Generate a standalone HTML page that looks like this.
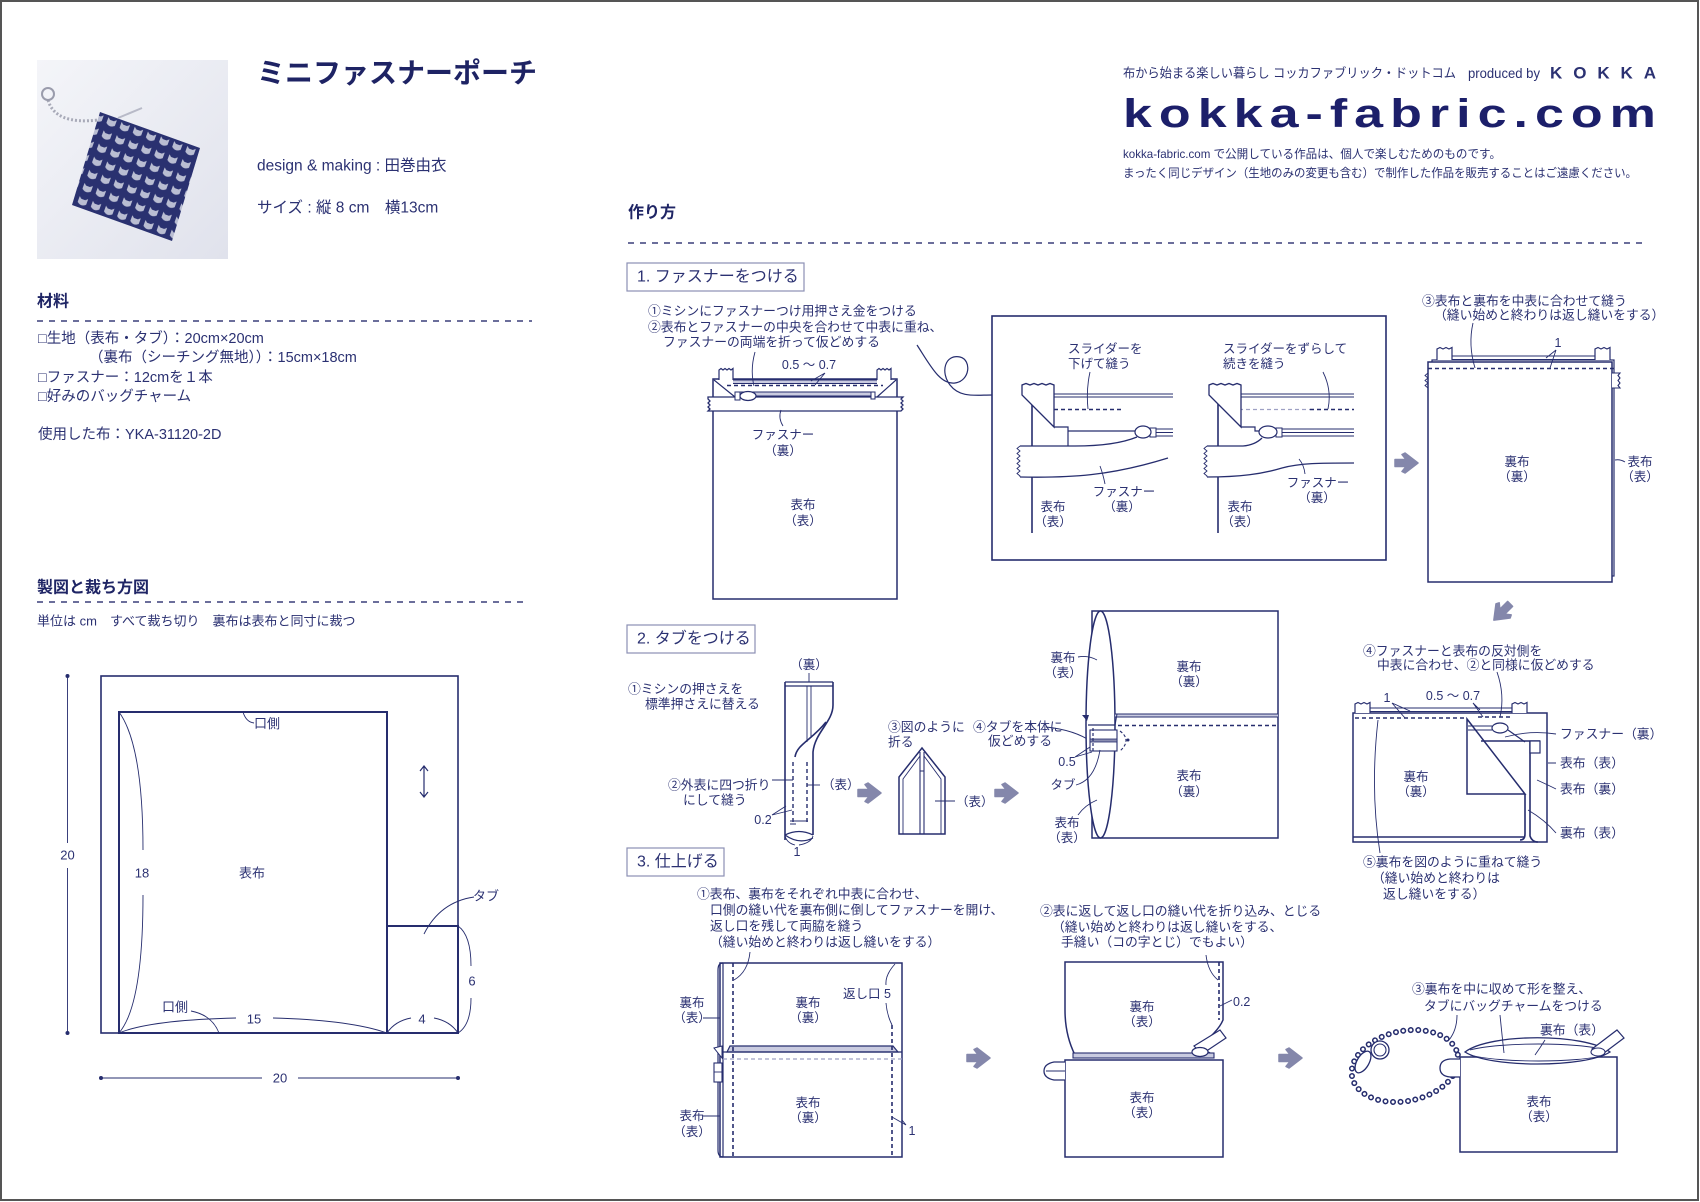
<!DOCTYPE html>
<html><head><meta charset="utf-8"><style>
html,body{margin:0;padding:0;background:#fff}
svg{display:block}
text{font-family:"Liberation Sans","Noto Sans CJK JP",sans-serif;fill:#2b3172;dominant-baseline:central;font-size:12.5px}
.c{text-anchor:middle}
.i{font-size:12.8px}
.h{font-size:16px;font-weight:bold;fill:#1f2565}
.s{stroke:#262d6e;fill:none;stroke-width:1.6}
.w{stroke:#262d6e;fill:#fff;stroke-width:1.5}
.t{stroke:#262d6e;fill:none;stroke-width:0.9}
.d{stroke:#262d6e;fill:none;stroke-width:1.6;stroke-dasharray:4 3}
.ld{stroke:#9ea1c4;fill:none;stroke-width:1.3;stroke-dasharray:4 3}
.hd{stroke:#3a3f7a;fill:none;stroke-width:1.5;stroke-dasharray:6 6}
.ar{fill:#8487ab;stroke:#8487ab;stroke-width:1.5;stroke-linejoin:round}
.bx{fill:#fff;stroke:#8b90b4;stroke-width:1.2}
</style></head><body>
<svg width="1700" height="1202" viewBox="0 0 1700 1202" xmlns="http://www.w3.org/2000/svg">
<defs>
<linearGradient id="pg" x1="0" y1="0" x2="1" y2="1"><stop offset="0" stop-color="#f4f5f9"/><stop offset="1" stop-color="#e0e2ec"/></linearGradient>
<pattern id="cat" width="14" height="14" patternUnits="userSpaceOnUse" patternTransform="rotate(20)">
<rect width="14" height="14" fill="#2a3170"/>
<path d="M2 3 L4.5 5 H8.5 L11 3 V9 Q6.5 13 2 9 Z" fill="#b9bdd2"/>
</pattern>
<path id="arr" d="M0 6.5 H11 L7 1.5 L10 0 L23 10 L10 20 L7 18.5 L11 13.5 H0 Z"/>
</defs>
<rect x="1" y="1" width="1697" height="1199" fill="none" stroke="#555" stroke-width="2"/>

<!-- photo -->
<rect x="37" y="60" width="191" height="199" fill="url(#pg)"/>
<path d="M48 100 Q55 125 98 120" fill="none" stroke="#a8aab8" stroke-width="3" stroke-dasharray="2 2"/>
<circle cx="48" cy="94" r="6" fill="none" stroke="#9a9cac" stroke-width="2"/>
<polygon points="100,112 200,148 172,241 72,205" fill="url(#cat)"/>
<path d="M118 118 L142 108" stroke="#b8bac8" stroke-width="2"/>

<!-- titles -->
<text x="257" y="73" style="font-size:28px;font-weight:bold;fill:#1e2364">ミニファスナーポーチ</text>
<text x="257" y="166" style="font-size:15.5px">design &amp; making : 田巻由衣</text>
<text x="257" y="208" style="font-size:15.5px">サイズ : 縦 8 cm　横13cm</text>

<text x="37" y="302" class="h">材料</text>
<line x1="37" y1="321" x2="532" y2="321" class="hd"/>
<text x="38" y="339" style="font-size:14.5px">□生地（表布・タブ）：20cm×20cm</text>
<text x="89" y="358" style="font-size:14.5px">（裏布（シーチング無地））：15cm×18cm</text>
<text x="38" y="378" style="font-size:14.5px">□ファスナー：12cmを１本</text>
<text x="38" y="397" style="font-size:14.5px">□好みのバッグチャーム</text>
<text x="38" y="435" style="font-size:14.5px">使用した布：YKA-31120-2D</text>

<!-- header right -->
<text x="1123" y="73" style="font-size:13px" textLength="333" lengthAdjust="spacingAndGlyphs">布から始まる楽しい暮らし コッカファブリック・ドットコム</text>
<text x="1468" y="73" style="font-size:14px" textLength="72" lengthAdjust="spacingAndGlyphs">produced by</text>
<text x="1550" y="73" style="font-size:17px;font-weight:bold" textLength="106" lengthAdjust="spacing">KOKKA</text>
<text transform="translate(1123,127) scale(1.3,1)" x="0" y="0" style="font-size:40px;font-weight:bold;fill:#1c1f6a;dominant-baseline:alphabetic;letter-spacing:5.4px">kokka-fabric.com</text>
<text x="1123" y="154" style="font-size:12px" textLength="378" lengthAdjust="spacingAndGlyphs">kokka-fabric.com で公開している作品は、個人で楽しむためのものです。</text>
<text x="1123" y="173" style="font-size:12px" textLength="514" lengthAdjust="spacingAndGlyphs">まったく同じデザイン（生地のみの変更も含む）で制作した作品を販売することはご遠慮ください。</text>

<text x="628" y="213" class="h">作り方</text>
<line x1="628" y1="243" x2="1647" y2="243" class="hd"/>

<!-- cutting diagram -->
<text x="37" y="588" class="h">製図と裁ち方図</text>
<line x1="37" y1="602" x2="528" y2="602" class="hd"/>
<text x="37" y="621" style="font-size:13px">単位は cm　すべて裁ち切り　裏布は表布と同寸に裁つ</text>
<rect x="101" y="676" width="357" height="357" class="s"/>
<rect x="119" y="712" width="268" height="321" class="s" style="stroke-width:2"/>
<rect x="387" y="926" width="71" height="107" class="s" style="stroke-width:2"/>
<path d="M67.5 676 V843 M67.5 868 V1033 M101 1078 H262 M298 1078 H458" class="t"/>
<circle cx="67.5" cy="676" r="2" fill="#262d6e"/><circle cx="67.5" cy="1033" r="2" fill="#262d6e"/>
<circle cx="101" cy="1078" r="2" fill="#262d6e"/><circle cx="458" cy="1078" r="2" fill="#262d6e"/>
<text x="67.5" y="855" class="c" style="font-size:13px">20</text>
<text x="280" y="1078" class="c" style="font-size:13px">20</text>
<path d="M424 766 V797 M420 771 L424 766 L428 771 M420 792 L424 797 L428 792" class="t" style="stroke-width:1.2"/>
<path d="M243 712 Q246 722 254 723" class="t"/>
<text x="267" y="723.5" class="c" style="font-size:13px">口側</text>
<text x="252" y="873" class="c" style="font-size:13px">表布</text>
<text x="142" y="873" class="c" style="font-size:13px">18</text>
<path d="M119 712 Q143 745 143 850 M143 895 Q143 1005 119 1033" class="t"/>
<text x="175" y="1007" class="c" style="font-size:13px">口側</text>
<path d="M191 1011 Q212 1015 219 1033" class="t"/>
<text x="254" y="1019" class="c" style="font-size:13px">15</text>
<path d="M119 1033 Q150 1020 236 1018 M273 1018 Q350 1020 387 1033" class="t"/>
<text x="422" y="1019" class="c" style="font-size:13px">4</text>
<path d="M387 1033 Q395 1021 411 1018 M434 1018 Q450 1021 458 1033" class="t"/>
<text x="472" y="981" class="c" style="font-size:13px">6</text>
<path d="M458 926 Q471 935 471 966 M471 998 Q471 1025 458 1033" class="t"/>
<text x="486" y="896" class="c" style="font-size:13px">タブ</text>
<path d="M474 897 Q440 902 424 934" class="t"/>

<!-- STEP 1 -->
<rect x="627" y="263" width="177" height="28" class="bx"/>
<text x="637" y="277" style="font-size:16px">1. ファスナーをつける</text>
<text x="648" y="311" class="i">①ミシンにファスナーつけ用押さえ金をつける</text>
<text x="648" y="327" class="i">②表布とファスナーの中央を合わせて中表に重ね、</text>
<text x="663" y="342" class="i">ファスナーの両端を折って仮どめする</text>

<rect x="713" y="379" width="184" height="220" class="w"/>
<path d="M719 380 V370 L721 368.5 L723 370 L725 368.5 L727 370 L729 368.5 L731 370 L733 368.5 V380" class="w" style="stroke-width:1.2"/>
<path d="M877 380 V370 L879 368.5 L881 370 L883 368.5 L885 370 L887 368.5 L889 370 L891 368.5 V380" class="w" style="stroke-width:1.2"/>
<rect x="733" y="380" width="144" height="3.5" fill="#c9cbe0"/>
<path d="M733 380 H877 M733 383.5 H877" class="t"/>
<path d="M714 380 L735 397 M896 380 L877 397" class="s" style="stroke-width:1.2"/>
<path d="M727 385.5 H883" class="d"/>
<path d="M708 397 H903 L901 399 L903 401 L901 403 L903 405 L901 407 L903 409 L901 411 H708 L710 409 L708 407 L710 405 L708 403 L710 401 L708 399 Z" class="w" style="stroke-width:1.3"/>
<rect x="740" y="392" width="132" height="4" fill="#c9cbe0"/>
<path d="M740 392 H872 M740 396 H872" class="t"/>
<rect x="735" y="392" width="5" height="8" class="w" style="stroke-width:1"/>
<ellipse cx="748" cy="396" rx="8" ry="4.5" class="w" style="stroke-width:1.2"/>
<rect x="871" y="392" width="4" height="7" class="w" style="stroke-width:1"/>
<text x="809" y="365" class="c">0.5 ～ 0.7</text>
<path d="M825 373 L811 381 M825 373 L815 385" class="t"/>
<path d="M755 352 Q750 370 754 386" class="t"/>
<path d="M783 426 Q778 418 781 410" class="t"/>
<text x="783" y="435" class="c">ファスナー</text>
<text x="783" y="451" class="c">（裏）</text>
<text x="803" y="505" class="c">表布</text>
<text x="803" y="521" class="c">（表）</text>

<path d="M917 345 C930 365 940 385 955 383 C970 381 972 360 960 357 C945 354 940 372 950 385 C960 398 975 395 992 395" class="t" style="stroke-width:1.2"/>
<rect x="992" y="316" width="394" height="244" class="s"/>

<!-- sub A -->
<text x="1068" y="349">スライダーを</text>
<text x="1068" y="364">下げて縫う</text>
<path d="M1032 401 V533" class="s"/>
<path d="M1054 394 H1173 M1054 397 H1173" class="t"/>
<path d="M1040 409.5 H1123" class="d"/>
<path d="M1022 395 V385 L1026 383.5 L1030 385 L1034 383.5 L1038 385 L1042 383.5 L1046 385 L1050 383.5 L1054 385 V427 Z" class="w" style="stroke-width:1.3"/>
<path d="M1020 446 H1075 Q1115 446 1137 437 L1168 458 C1110 476 1070 478 1020 477 Z" fill="#fff"/>
<path d="M1054 427 H1068 V431 H1136 M1068 431 V446" class="t" style="stroke-width:1.2"/>
<path d="M1020 446 H1075 Q1115 446 1137 437" class="s" style="stroke-width:1.3"/>
<path d="M1020 477 C1070 478 1110 476 1168 458" class="s" style="stroke-width:1.3"/>
<path d="M1020 446 l-3 2.5 l3 2.5 l-3 2.5 l3 2.5 l-3 2.5 l3 2.5 l-3 2.5 l3 2.5 l-3 2.5 l3 2.5 l-3 2.5 l3 2.5 v1" class="t"/>
<path d="M1156 429 H1173 M1156 432.5 H1173 M1156 436 H1173" class="t"/>
<rect x="1150" y="428" width="6" height="9" class="w" style="stroke-width:1"/>
<ellipse cx="1143" cy="432" rx="8" ry="6" class="w" style="stroke-width:1.2"/>
<path d="M1090 372 Q1086 390 1088 409" class="t"/>
<path d="M1105 484 Q1103 474 1100 466" class="t"/>
<text x="1124" y="492" class="c">ファスナー</text>
<text x="1122" y="507" class="c">（裏）</text>
<text x="1053" y="507" class="c">表布</text>
<text x="1053" y="522" class="c">（表）</text>

<!-- sub B -->
<text x="1223" y="349">スライダーをずらして</text>
<text x="1223" y="364">続きを縫う</text>
<path d="M1218 401 V533" class="s"/>
<path d="M1241 394 H1354 M1241 397 H1354" class="t"/>
<path d="M1225 409.5 H1310" class="ld"/>
<path d="M1310 409.5 H1354" class="d"/>
<path d="M1209 395 V385 L1213 383.5 L1217 385 L1221 383.5 L1225 385 L1229 383.5 L1233 385 L1237 383.5 L1241 385 V427 Z" class="w" style="stroke-width:1.3"/>
<path d="M1207 446 H1243 Q1255 445 1262 438 L1354 438 V463 C1320 463 1300 463 1282 468 C1262 474 1240 477 1207 477 Z" fill="#fff"/>
<path d="M1241 427 H1255 V431 H1261" class="t" style="stroke-width:1.2"/>
<path d="M1207 446 H1243 Q1255 445 1262 438" class="s" style="stroke-width:1.3"/>
<path d="M1207 477 C1240 477 1262 474 1282 468 C1300 463 1320 463 1354 463" class="s" style="stroke-width:1.3"/>
<path d="M1207 446 l-3 2.5 l3 2.5 l-3 2.5 l3 2.5 l-3 2.5 l3 2.5 l-3 2.5 l3 2.5 l-3 2.5 l3 2.5 l-3 2.5 l3 2.5 v1" class="t"/>
<path d="M1282 429 H1354 M1282 432.5 H1354 M1282 436 H1354" class="t"/>
<rect x="1276" y="428" width="6" height="9" class="w" style="stroke-width:1"/>
<ellipse cx="1268" cy="432" rx="9" ry="6" class="w" style="stroke-width:1.2"/>
<path d="M1323 372 Q1332 390 1328 409" class="t"/>
<path d="M1305 474 Q1304 465 1299 459" class="t"/>
<text x="1318" y="483" class="c">ファスナー</text>
<text x="1317" y="498" class="c">（裏）</text>
<text x="1240" y="507" class="c">表布</text>
<text x="1240" y="522" class="c">（表）</text>

<use href="#arr" class="ar" transform="translate(1395,453)"/>

<!-- panel 3 -->
<text x="1422" y="301" class="i">③表布と裏布を中表に合わせて縫う</text>
<text x="1434" y="315" class="i">（縫い始めと終わりは返し縫いをする）</text>
<rect x="1432" y="360" width="182" height="216" class="w" style="stroke-width:1.2"/>
<path d="M1437 360 V349 L1440 347.5 L1443 349 L1446 347.5 L1449 349 L1452 347.5 V360" class="w" style="stroke-width:1.2"/>
<path d="M1595 360 V349 L1598 347.5 L1601 349 L1604 347.5 L1607 349 L1610 347.5 V360" class="w" style="stroke-width:1.2"/>
<path d="M1452 356 H1595 M1452 359.5 H1595" class="t"/>
<rect x="1428" y="362" width="184" height="220" class="w"/>
<path d="M1428 368.5 H1617" class="d"/>
<path d="M1428 373 l-3 2.5 l3 2.5 l-3 2.5 l3 2.5 l-3 2.5 l3 2.5" class="t"/>
<path d="M1612 373 H1620 l-2 2.5 l2 2.5 l-2 2.5 l2 2.5 l-2 2.5 l2 2.5 H1612" class="w" style="stroke-width:1.1"/>
<text x="1558" y="343" class="c">1</text>
<path d="M1556 350 L1546 358 M1556 350 L1550 368" class="t"/>
<path d="M1473 323 Q1468 345 1475 368" class="t"/>
<text x="1517" y="462" class="c">裏布</text>
<text x="1517" y="477" class="c">（裏）</text>
<path d="M1615 460 Q1620 459 1625 462" class="t"/>
<text x="1640" y="462" class="c">表布</text>
<text x="1640" y="477" class="c">（表）</text>
<use href="#arr" class="ar" transform="translate(1502,612) rotate(135) translate(-11.5,-10)"/>

<!-- panel 4 -->
<text x="1363" y="651" class="i">④ファスナーと表布の反対側を</text>
<text x="1377" y="665" class="i">中表に合わせ、②と同様に仮どめする</text>
<rect x="1353" y="713" width="194" height="129" class="w"/>
<path d="M1370 708 H1512 M1370 711.5 H1512" class="t"/>
<path d="M1355 713 V704 L1358 702.5 L1361 704 L1364 702.5 L1367 704 L1370 702.5 V713" class="w" style="stroke-width:1.2"/>
<path d="M1512 713 V704 L1515 702.5 L1518 704 L1521 702.5 L1524 704 L1527 702.5 V713" class="w" style="stroke-width:1.2"/>
<path d="M1355 718 H1467" class="d"/>
<path d="M1478 717 H1513" class="d"/>
<path d="M1467 719 V794 H1525 Z" class="w"/>
<path d="M1525 794 V834 Q1525 840 1520 840" class="s"/>
<path d="M1530 741 V836 Q1532 842 1538 842" class="s"/>
<path d="M1481 741 H1540" class="s"/>
<rect x="1530" y="741" width="10" height="12" class="w" style="stroke-width:1.2"/>
<path d="M1468 726 H1492 M1468 730 H1492" class="t"/>
<ellipse cx="1500" cy="728" rx="8" ry="5" class="w" style="stroke-width:1.2"/>
<path d="M1508 730 L1525 742" class="s" style="stroke-width:1.2"/>
<path d="M1353 837 H1525" class="s"/>
<text x="1387" y="698" class="c">1</text>
<path d="M1392 703 L1410 711 M1392 703 L1405 718" class="t"/>
<text x="1453" y="696" class="c">0.5 ～ 0.7</text>
<path d="M1473 703 L1480 710 M1473 703 L1483 717" class="t"/>
<path d="M1497 672 Q1505 695 1500 717" class="t"/>
<path d="M1505 737 Q1530 730 1556 734 M1548 763 H1556 M1537 780 Q1548 785 1556 789 M1528 810 Q1545 820 1556 833" class="t"/>
<text x="1560" y="734" class="i">ファスナー（裏）</text>
<text x="1560" y="763" class="i">表布（表）</text>
<text x="1560" y="789" class="i">表布（裏）</text>
<text x="1560" y="833" class="i">裏布（表）</text>
<text x="1416" y="777" class="c">裏布</text>
<text x="1416" y="792" class="c">（裏）</text>
<path d="M1380 853 Q1370 790 1378 720" class="t"/>
<text x="1363" y="862" class="i">⑤裏布を図のように重ねて縫う</text>
<text x="1372" y="878" class="i">（縫い始めと終わりは</text>
<text x="1383" y="894" class="i">返し縫いをする）</text>

<!-- STEP 2 -->
<rect x="627" y="625" width="128" height="28" class="bx"/>
<text x="637" y="639" style="font-size:16px">2. タブをつける</text>
<text x="628" y="689" class="i">①ミシンの押さえを</text>
<text x="645" y="704" class="i">標準押さえに替える</text>
<text x="809" y="665" class="c">（裏）</text>
<path d="M809 673 V682" class="t"/>
<path d="M785 682 H833 M785 686 H833" class="s" style="stroke-width:1.3"/>
<path d="M785 682 V840" class="s"/>
<path d="M807 686 V742 M811 686 V738" class="t"/>
<path d="M833 682 V705 C833 722 815 732 813 752 V835" class="s"/>
<path d="M795 757 C797 744 812 740 826 722" class="s"/>
<path d="M793 762 V823 M807 762 V823" class="d" style="stroke-width:1.4"/>
<path d="M785 835 Q799 828 813 835 M785 835 Q799 845 813 838" class="s" style="stroke-width:1.2"/>
<path d="M790 821 H808 M790 824 H796" class="t"/>
<text x="668" y="785" class="i">②外表に四つ折り</text>
<text x="683" y="800" class="i">にして縫う</text>
<path d="M772 780 H793" class="t"/>
<path d="M807 785 H820" class="t"/>
<text x="822" y="785">（表）</text>
<text x="763" y="820" class="c">0.2</text>
<path d="M772 815 L786 806 M772 815 L792 810" class="t"/>
<path d="M785 836 Q787 843 795 845 M813 836 Q811 843 799 845" class="t"/>
<text x="797" y="852" class="c">1</text>
<use href="#arr" class="ar" transform="translate(858,783)"/>
<text x="888" y="727" class="i">③図のように</text>
<text x="888" y="742" class="i">折る</text>
<polygon points="899,834 899,777 922,748 945,777 945,834" class="w"/>
<path d="M903 834 V779 L920 756 M941 834 V779 L924 756" class="t"/>
<path d="M920 752 V834 M924 752 V834 M920 771 H924" class="t" style="stroke-width:1.1"/>
<path d="M935 801 H955" class="t"/>
<text x="956" y="802">（表）</text>
<use href="#arr" class="ar" transform="translate(995,783)"/>
<text x="973" y="727" class="i">④タブを本体に</text>
<text x="988" y="741" class="i">仮どめする</text>
<path d="M1046 727 Q1075 730 1092 742" class="t"/>

<rect x="1092" y="611" width="186" height="227" class="w"/>
<ellipse cx="1100.5" cy="724.5" rx="14.5" ry="113.5" class="w"/>
<rect x="1115" y="714" width="163" height="3" fill="#c9cbe0"/>
<path d="M1115 714 H1278 M1115 717 H1278 M1115 726 L1117 714" class="t"/>
<path d="M1118 725.5 H1278" class="d"/>
<path d="M1088 725 H1115" class="s" style="stroke-width:1.2"/>
<path d="M1082 715 L1089 715 L1087 721 Z" fill="#262d6e"/>
<rect x="1090" y="730" width="27" height="21" class="w" style="stroke-width:1.1"/>
<rect x="1090" y="739" width="27" height="3" fill="#8a8db0" stroke="#262d6e" stroke-width="0.8"/>
<path d="M1093 728 V753" class="d" style="stroke-width:1.2;stroke-dasharray:3 2"/>
<path d="M1120 731 Q1132 740 1120 751" class="d" style="stroke-width:1.1;stroke-dasharray:3 2"/>
<circle cx="1128" cy="740" r="1.5" fill="#262d6e"/>
<text x="1063" y="658" class="c">裏布</text>
<text x="1063" y="673" class="c">（表）</text>
<path d="M1078 657 Q1088 655 1097 660" class="t"/>
<text x="1189" y="667" class="c">裏布</text>
<text x="1189" y="682" class="c">（裏）</text>
<text x="1189" y="776" class="c">表布</text>
<text x="1189" y="792" class="c">（裏）</text>
<text x="1067" y="762" class="c">0.5</text>
<path d="M1075 757 L1090 747 M1075 757 L1092 752" class="t"/>
<text x="1063" y="785" class="c">タブ</text>
<path d="M1076 785 Q1095 780 1100 750" class="t"/>
<text x="1067" y="823" class="c">表布</text>
<text x="1067" y="838" class="c">（表）</text>
<path d="M1078 815 Q1085 805 1097 800" class="t"/>

<!-- STEP 3 -->
<rect x="627" y="848" width="97" height="28" class="bx"/>
<text x="637" y="862" style="font-size:16px">3. 仕上げる</text>
<text x="697" y="894" class="i">①表布、裏布をそれぞれ中表に合わせ、</text>
<text x="710" y="910" class="i">口側の縫い代を裏布側に倒してファスナーを開け、</text>
<text x="710" y="926" class="i">返し口を残して両脇を縫う</text>
<text x="710" y="942" class="i">（縫い始めと終わりは返し縫いをする）</text>
<rect x="720" y="963" width="182" height="194" class="w"/>
<path d="M723 963 Q718 963 718 970 V1150 Q718 1157 723 1157 M723 963 V1157" class="s" style="stroke-width:1.2"/>
<path d="M727 1052 L730 1046 H893 L898 1052 Z" fill="#c9cbe0" stroke="#262d6e" stroke-width="1.2"/>
<path d="M720 1052 H902" class="s" style="stroke-width:1.2"/>
<path d="M723 1059 H902" class="ld"/>
<path d="M733 963 V1157 M892 1025 V1157" class="d"/>
<path d="M714 1048 L722 1046 L722 1058 Z" class="w" style="stroke-width:1"/>
<rect x="714" y="1063" width="8" height="19" class="w" style="stroke-width:1.1"/>
<path d="M714 1072 H722" class="t"/>
<text x="692" y="1003" class="c">裏布</text>
<text x="692" y="1018" class="c">（表）</text>
<path d="M703 1018 H720" class="t"/>
<text x="808" y="1003" class="c">裏布</text>
<text x="808" y="1018" class="c">（裏）</text>
<text x="843" y="994">返し口 5</text>
<path d="M895 964 Q885 975 886 985 M886 1003 Q887 1015 892 1025" class="t"/>
<text x="808" y="1103" class="c">表布</text>
<text x="808" y="1118" class="c">（裏）</text>
<text x="692" y="1116" class="c">表布</text>
<text x="692" y="1132" class="c">（表）</text>
<path d="M703 1116 H720" class="t"/>
<text x="912" y="1131" class="c">1</text>
<path d="M906 1125 L892 1117 M906 1125 L902 1120" class="t"/>
<path d="M750 952 Q748 972 734 980" class="t"/>
<use href="#arr" class="ar" transform="translate(967,1048)"/>

<text x="1040" y="911" class="i">②表に返して返し口の縫い代を折り込み、とじる</text>
<text x="1052" y="927" class="i">（縫い始めと終わりは返し縫いをする、</text>
<text x="1061" y="942" class="i">手縫い（コの字とじ）でもよい）</text>
<path d="M1075 1055 Q1065 1035 1065 1010 V962 H1223 V1020 Q1218 1032 1198 1047 L1214 1055 Z" class="w"/>
<path d="M1219 962 V1020" class="d"/>
<rect x="1073" y="1053" width="141" height="5" fill="#c9cbe0" stroke="#262d6e" stroke-width="1.1"/>
<rect x="1065" y="1060" width="158" height="97" class="w"/>
<path d="M1065 1062 H1054 Q1044 1064 1044 1071 Q1044 1078 1054 1080 H1065" class="w" style="stroke-width:1.3"/>
<path d="M1046 1071 H1065" class="t"/>
<polygon points="1194,1046 1220,1030 1226,1038 1202,1054" class="w" style="stroke-width:1.2"/>
<ellipse cx="1200" cy="1052" rx="8" ry="4.5" class="w" style="stroke-width:1.2"/>
<text x="1142" y="1007" class="c">裏布</text>
<text x="1142" y="1022" class="c">（表）</text>
<text x="1142" y="1098" class="c">表布</text>
<text x="1142" y="1113" class="c">（表）</text>
<text x="1233" y="1002">0.2</text>
<path d="M1220 1006 L1232 1000" class="t"/>
<path d="M1206 955 Q1208 972 1218 980" class="t"/>
<use href="#arr" class="ar" transform="translate(1279,1048)"/>

<text x="1412" y="989" class="i">③裏布を中に収めて形を整え、</text>
<text x="1424" y="1006" class="i">タブにバッグチャームをつける</text>
<ellipse cx="1405" cy="1066" rx="54" ry="35" transform="rotate(-12 1405 1066)" fill="none" stroke="#262d6e" stroke-width="6" stroke-dasharray="0 7.5" stroke-linecap="round"/>
<ellipse cx="1405" cy="1066" rx="54" ry="35" transform="rotate(-12 1405 1066)" fill="none" stroke="#fff" stroke-width="3" stroke-dasharray="0 7.5" stroke-linecap="round"/>
<circle cx="1380" cy="1050" r="9" class="w" style="stroke-width:1.3"/>
<circle cx="1380" cy="1050" r="6" class="t" style="stroke-width:1.1"/>
<ellipse cx="1363" cy="1062" rx="6" ry="12" transform="rotate(30 1363 1062)" class="w" style="stroke-width:1.3"/>
<rect x="1460" y="1057" width="157" height="95" class="w"/>
<path d="M1460 1059 H1450 Q1440 1060 1440 1068 Q1440 1076 1450 1077 H1460" class="w" style="stroke-width:1.3"/>
<path d="M1465 1052 C1490 1033 1585 1033 1610 1052 C1585 1068 1490 1068 1465 1052 Z" class="w" style="stroke-width:1.3"/>
<path d="M1470 1050 C1500 1042 1578 1042 1605 1050 M1470 1055 C1500 1063 1578 1063 1605 1055" class="t"/>
<polygon points="1592,1049 1617,1030 1624,1038 1600,1056" class="w" style="stroke-width:1.2"/>
<ellipse cx="1598" cy="1052" rx="7" ry="4" class="w" style="stroke-width:1.1"/>
<text x="1540" y="1030" class="i">裏布（表）</text>
<path d="M1545 1040 Q1540 1048 1535 1055" class="t"/>
<path d="M1457 1015 Q1457 1030 1449 1040 M1500 1015 Q1502 1035 1504 1053" class="t"/>
<text x="1539" y="1102" class="c">表布</text>
<text x="1539" y="1117" class="c">（表）</text>
</svg>
</body></html>
